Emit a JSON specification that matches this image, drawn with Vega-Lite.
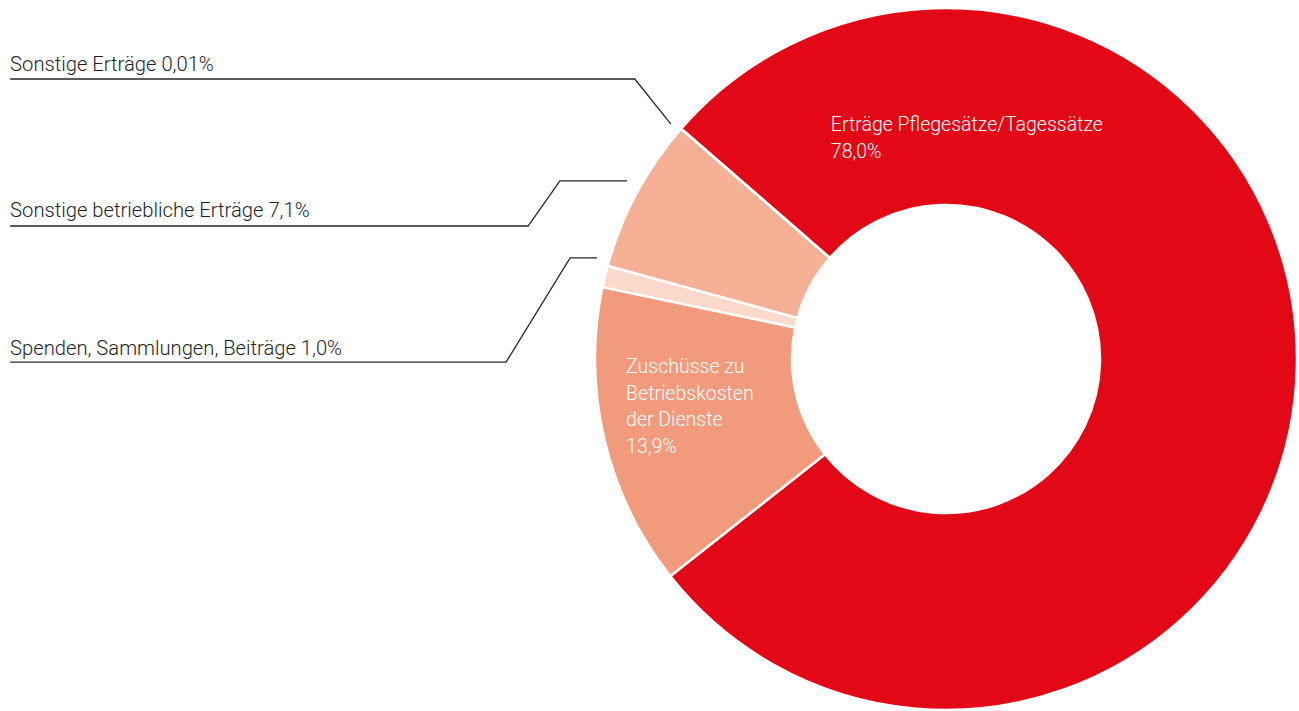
{
  "$schema": "https://vega.github.io/schema/vega-lite/v6.json",
  "width": 700,
  "height": 700,
  "autosize": {"type": "none"},
  "padding": {"left": 596, "top": 9, "right": 3, "bottom": 2},
  "background": "white",
  "config": {
    "view": {"stroke": null},
    "text": {"font": "Roboto", "fontWeight": 300}
  },
  "datasets": {
    "anteile": [
      {"nr": 1, "kategorie": "Erträge Pflegesätze/Tagessätze", "anteil": 78.0},
      {"nr": 2, "kategorie": "Zuschüsse zu Betriebskosten der Dienste", "anteil": 13.9},
      {"nr": 3, "kategorie": "Spenden, Sammlungen, Beiträge", "anteil": 1.0},
      {"nr": 4, "kategorie": "Sonstige betriebliche Erträge", "anteil": 7.1},
      {"nr": 5, "kategorie": "Sonstige Erträge", "anteil": 0.01}
    ],
    "aussen": [
      {"text": "Sonstige Erträge 0,01%", "x": -267.4, "y": 82.3},
      {"text": "Sonstige betriebliche Erträge 7,1%", "x": -267.4, "y": 40.6},
      {"text": "Spenden, Sammlungen, Beiträge 1,0%", "x": -267.4, "y": 1.1}
    ],
    "innen": [
      {"text": "Erträge Pflegesätze/Tagessätze\n78,0%", "x": -32.9, "y": 65.1},
      {"text": "Zuschüsse zu\nBetriebskosten\nder Dienste\n13,9%", "x": -91.4, "y": -4.0}
    ],
    "linien": [
      {"linie": "a", "schritt": 1, "x": -267.4, "y": 80.0},
      {"linie": "a", "schritt": 2, "x": -88.9, "y": 80.0},
      {"linie": "a", "schritt": 3, "x": -78.6, "y": 67.1},
      {"linie": "b", "schritt": 1, "x": -267.4, "y": 38.0},
      {"linie": "b", "schritt": 2, "x": -119.4, "y": 38.0},
      {"linie": "b", "schritt": 3, "x": -110.3, "y": 50.9},
      {"linie": "b", "schritt": 4, "x": -91.1, "y": 50.9},
      {"linie": "c", "schritt": 1, "x": -267.4, "y": -0.9},
      {"linie": "c", "schritt": 2, "x": -125.7, "y": -0.9},
      {"linie": "c", "schritt": 3, "x": -107.4, "y": 28.9},
      {"linie": "c", "schritt": 4, "x": -99.7, "y": 28.9}
    ]
  },
  "layer": [
    {
      "data": {"name": "anteile"},
      "mark": {
        "type": "arc",
        "outerRadius": 351,
        "innerRadius": 154,
        "stroke": "white",
        "strokeWidth": 2.5
      },
      "encoding": {
        "theta": {
          "field": "anteil",
          "type": "quantitative",
          "stack": true,
          "scale": {"range": [-0.855, 5.4282]}
        },
        "order": {"field": "nr", "type": "quantitative"},
        "color": {
          "field": "kategorie",
          "type": "nominal",
          "legend": null,
          "scale": {
            "domain": [
              "Erträge Pflegesätze/Tagessätze",
              "Zuschüsse zu Betriebskosten der Dienste",
              "Spenden, Sammlungen, Beiträge",
              "Sonstige betriebliche Erträge",
              "Sonstige Erträge"
            ],
            "range": ["#E30815", "#F19A7C", "#FCD9CA", "#F5B096", "#F9C9B5"]
          }
        }
      }
    },
    {
      "data": {"name": "linien"},
      "mark": {"type": "line", "color": "#262626", "strokeWidth": 1.3},
      "encoding": {
        "x": {"field": "x", "type": "quantitative", "scale": {"domain": [-100, 100], "nice": false, "zero": false}, "axis": null},
        "y": {"field": "y", "type": "quantitative", "scale": {"domain": [-100, 100], "nice": false, "zero": false}, "axis": null},
        "detail": {"field": "linie", "type": "nominal"},
        "order": {"field": "schritt", "type": "quantitative"}
      }
    },
    {
      "data": {"name": "aussen"},
      "mark": {"type": "text", "align": "left", "baseline": "alphabetic", "color": "#1e1e1e", "fontSize": 20.2},
      "encoding": {
        "x": {"field": "x", "type": "quantitative"},
        "y": {"field": "y", "type": "quantitative"},
        "text": {"field": "text", "type": "nominal"}
      }
    },
    {
      "data": {"name": "innen"},
      "mark": {"type": "text", "align": "left", "baseline": "alphabetic", "color": "white", "fontSize": 19.5, "lineBreak": "\n", "lineHeight": 26.5},
      "encoding": {
        "x": {"field": "x", "type": "quantitative"},
        "y": {"field": "y", "type": "quantitative"},
        "text": {"field": "text", "type": "nominal"}
      }
    }
  ]
}
